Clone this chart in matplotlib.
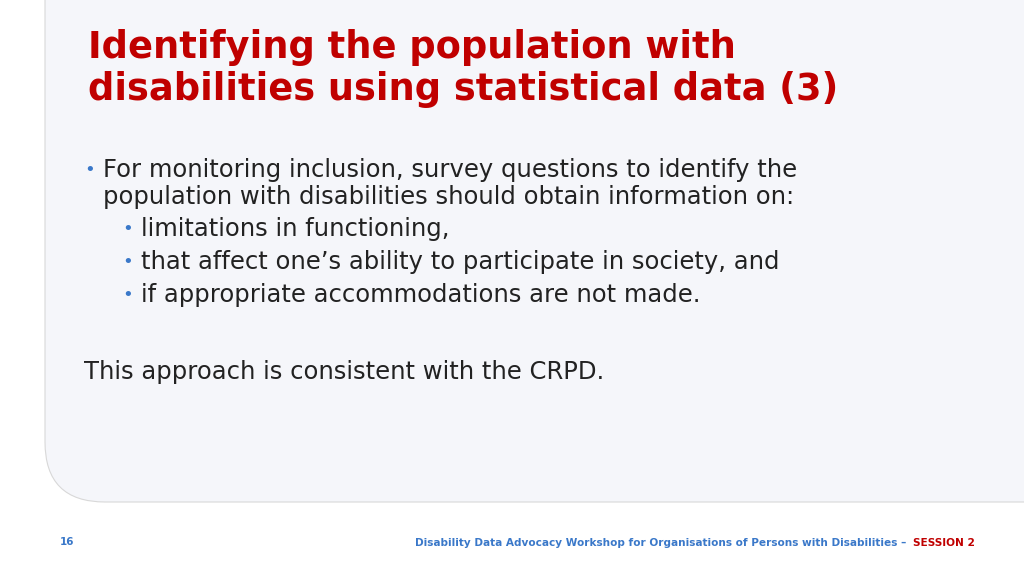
import matplotlib.pyplot as plt
from matplotlib.patches import FancyBboxPatch

TITLE_LINES = ["Identifying the population with",
               "disabilities using statistical data (3)"]
BULLET_MAIN = ["For monitoring inclusion, survey questions to identify the",
               "population with disabilities should obtain information on:"]
SUB_BULLETS = ["limitations in functioning,",
               "that affect one\u2019s ability to participate in society, and",
               "if appropriate accommodations are not made."]
CLOSING = "This approach is consistent with the CRPD."
PAGE_NUM = "16"
FOOTER = "Disability Data Advocacy Workshop for Organisations of Persons with Disabilities \u2013 "
FOOTER_SESSION = "SESSION 2"

RED = "#c00000"
BLUE = "#3a78c9"
TEXT = "#222222"

W, H = 1024, 576
fig = plt.figure(figsize=(10.24, 5.76), dpi=100)
ax = fig.add_axes([0, 0, 1, 1])
ax.set_xlim(0, W)
ax.set_ylim(H, 0)
ax.axis("off")

# light panel with rounded lower-left corner
panel = FancyBboxPatch((45, -80), W + 80, 582, boxstyle="round,pad=0,rounding_size=60",
                       fc="#f5f6fa", ec="#d8d8d8", lw=0.8)
ax.add_patch(panel)

for i, line in enumerate(TITLE_LINES):
    ax.text(88, 47 + i * 42, line, color=RED, fontsize=26.5, fontweight="bold",
            va="center", ha="left")

FS = 17.5
ax.text(84, 170, "\u2022", color=BLUE, fontsize=13, va="center")
for i, line in enumerate(BULLET_MAIN):
    ax.text(103, 170 + i * 27, line, color=TEXT, fontsize=FS, va="center")
for i, line in enumerate(SUB_BULLETS):
    y = 229 + i * 33
    ax.text(122, y, "\u2022", color=BLUE, fontsize=13, va="center")
    ax.text(141, y, line, color=TEXT, fontsize=FS, va="center")

ax.text(84, 372, CLOSING, color=TEXT, fontsize=FS, va="center")

ax.text(60, 542, PAGE_NUM, color=BLUE, fontsize=7.5, fontweight="bold", va="center")
ax.text(975, 543, FOOTER_SESSION, color=RED, fontsize=7.6, fontweight="bold", va="center", ha="right")
ax.text(910, 543, FOOTER, color=BLUE, fontsize=7.6, fontweight="bold", va="center", ha="right")

fig.savefig("out.png", dpi=100)
